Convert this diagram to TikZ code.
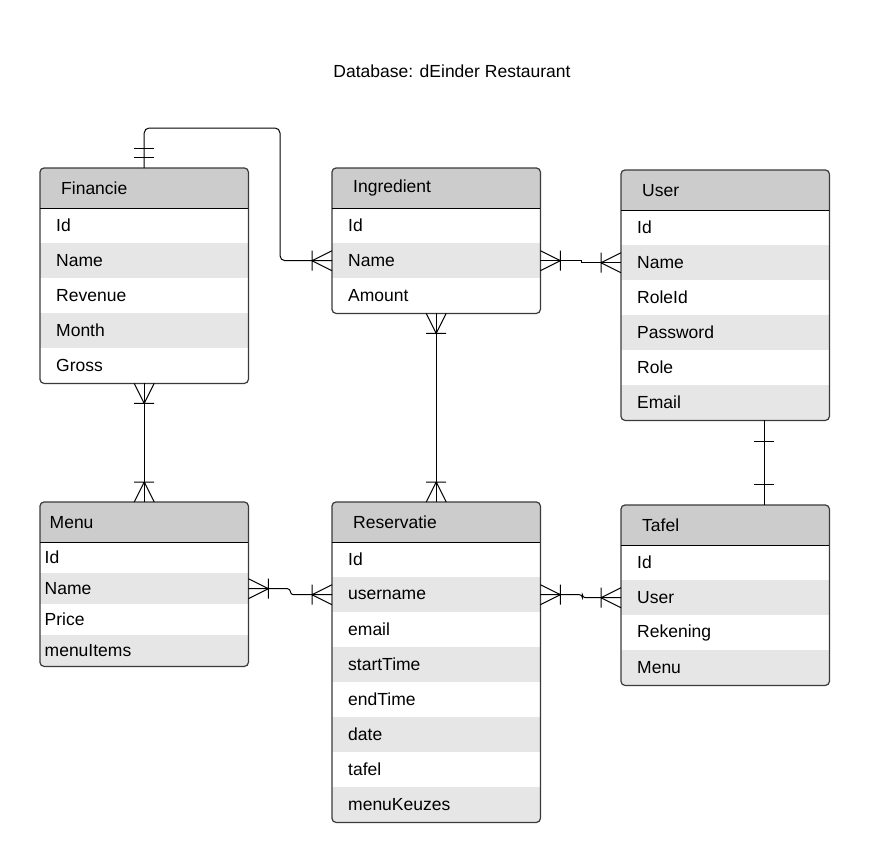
\documentclass[tikz,border=0pt]{standalone}
\usepackage{fontspec}
\setmainfont{Liberation Sans}
\usetikzlibrary{calc}
\definecolor{headgray}{HTML}{CCCCCC}
\definecolor{rowgray}{HTML}{E6E6E6}
\definecolor{framegray}{HTML}{3A3A3A}
\tikzset{
  row/.style={anchor=north west, minimum width=208pt, minimum height=35pt,
    inner xsep=16pt, inner ysep=0pt, text width=176pt, align=left},
  head/.style={row, fill=headgray, minimum height=40pt, inner xsep=21pt, text width=166pt},
  frame/.style={draw=framegray, line width=1.2pt, rounded corners=4pt},
  rel/.style={draw=black, line width=1pt},
  many/.pic={\draw[rel] (-20,-10) -- (-20,10) (-20,0) -- (0,-10) (-20,0) -- (0,10);},
  one/.pic={\draw[rel] (-21,-10) -- (-21,10);},
  onlyone/.pic={\draw[rel] (-11,-10) -- (-11,10) (-20,-10) -- (-20,10);}
}
\begin{document}
\begin{tikzpicture}[x=1pt, y=-1pt, node font=\fontsize{17.5}{21}\selectfont]
\useasboundingbox (0,0) rectangle (870,862);
\node (title) at (452,71) {Database: dEinder Restaurant};

% Financie
\begin{scope}
  \clip[rounded corners=4pt] (40,168) rectangle (248,383);
  \node[head] (fin) at (40,168) {Financie};
  \foreach \t/\f [count=\i] in {Id/white, Name/rowgray, Revenue/white, Month/rowgray, Gross/white}
    \node[row, fill=\f] (fin-\i) at (40,{208+35*(\i-1)}) {\t};
\end{scope}
\draw[frame] (fin.north west) rectangle (fin-5.south east);
\draw[line width=1.3pt] (fin.south west) -- (fin.south east);

% Ingredient
\begin{scope}
  \clip[rounded corners=4pt] (332,168) rectangle (540,313);
  \node[head] (ing) at (332,168) {Ingredient};
  \foreach \t/\f [count=\i] in {Id/white, Name/rowgray, Amount/white}
    \node[row, fill=\f] (ing-\i) at (332,{208+35*(\i-1)}) {\t};
\end{scope}
\draw[frame] (ing.north west) rectangle (ing-3.south east);
\draw[line width=1.3pt] (ing.south west) -- (ing.south east);

% User
\begin{scope}
  \clip[rounded corners=4pt] (621,170) rectangle (829,420);
  \node[head] (usr) at (621,170) {User};
  \foreach \t/\f [count=\i] in {Id/white, Name/rowgray, RoleId/white, Password/rowgray, Role/white, Email/rowgray}
    \node[row, fill=\f] (usr-\i) at (621,{210+35*(\i-1)}) {\t};
\end{scope}
\draw[frame] (usr.north west) rectangle (usr-6.south east);
\draw[line width=1.3pt] (usr.south west) -- (usr.south east);

% Menu
\begin{scope}
  \clip[rounded corners=4pt] (40,502) rectangle (248,666);
  \node[head, inner xsep=9.5pt, text width=189pt] (men) at (40,502) {Menu};
  \foreach \t/\f [count=\i] in {Id/white, Name/rowgray, Price/white, menuItems/rowgray}
    \node[row, fill=\f, minimum height=31pt, inner xsep=4.5pt, text width=199pt] (men-\i) at (40,{542+31*(\i-1)}) {\t};
\end{scope}
\draw[frame] (men.north west) rectangle (men-4.south east);
\draw[line width=1.3pt] (men.south west) -- (men.south east);

% Reservatie
\begin{scope}
  \clip[rounded corners=4pt] (332,502) rectangle (540,822);
  \node[head] (res) at (332,502) {Reservatie};
  \foreach \t/\f [count=\i] in {Id/white, username/rowgray, email/white, startTime/rowgray, endTime/white, date/rowgray, tafel/white, menuKeuzes/rowgray}
    \node[row, fill=\f] (res-\i) at (332,{542+35*(\i-1)}) {\t};
\end{scope}
\draw[frame] (res.north west) rectangle (res-8.south east);
\draw[line width=1.3pt] (res.south west) -- (res.south east);

% Tafel
\begin{scope}
  \clip[rounded corners=4pt] (621,505) rectangle (829,685);
  \node[head] (taf) at (621,505) {Tafel};
  \foreach \t/\f [count=\i] in {Id/white, User/rowgray, Rekening/white, Menu/rowgray}
    \node[row, fill=\f] (taf-\i) at (621,{545+35*(\i-1)}) {\t};
\end{scope}
\draw[frame] (taf.north west) rectangle (taf-4.south east);
\draw[line width=1.3pt] (taf.south west) -- (taf.south east);

% relations
\coordinate (finbend) at (280,128);
\draw[rel, rounded corners=5pt] (fin.north) |- (finbend) |- (ing-2.west);
\pic[rotate=-90] at (fin.north) {onlyone};
\pic at (ing-2.west) {many};

\draw[rel] (ing-2.east) -- ++(41,0) |- (usr-2.west);
\pic[rotate=180] at (ing-2.east) {many};
\pic at (usr-2.west) {many};

\draw[rel] (fin-5.south) -- (men.north);
\pic[rotate=90] at (fin-5.south) {many};
\pic[rotate=-90] at (men.north) {many};

\draw[rel] (ing-3.south) -- (res.north);
\pic[rotate=90] at (ing-3.south) {many};
\pic[rotate=-90] at (res.north) {many};

\draw[rel] ($(usr-6.south east)+(-65,0)$) coordinate (ut1) -- ($(taf.north east)+(-65,0)$) coordinate (ut2);
\pic[rotate=90] at (ut1) {one};
\pic[rotate=-90] at (ut2) {one};

\draw[rel, rounded corners=3pt] (men-2.east) -- ++(42,0) |- (res-2.west);
\pic[rotate=180] at (men-2.east) {many};
\pic at (res-2.west) {many};

\draw[rel, rounded corners=3pt] (res-2.east) -- ++(42,0) |- (taf-2.west);
\pic[rotate=180] at (res-2.east) {many};
\pic at (taf-2.west) {many};
\end{tikzpicture}
\end{document}
